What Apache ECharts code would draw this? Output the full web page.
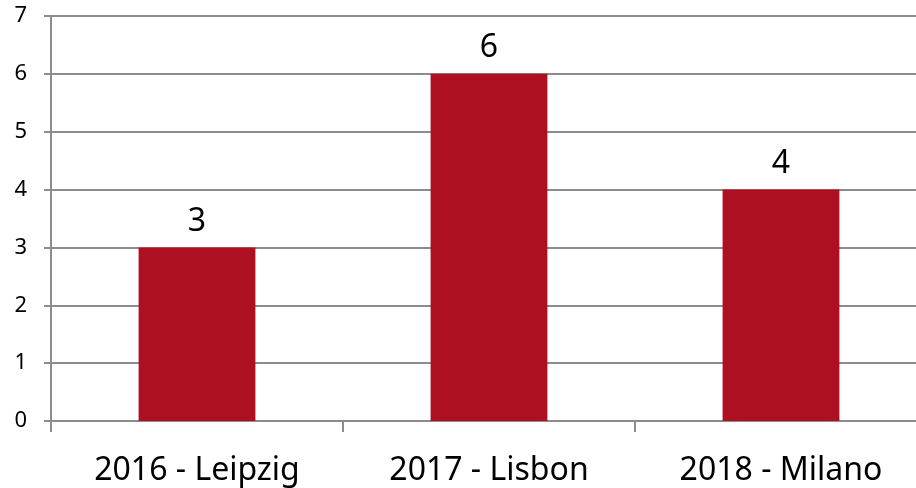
<!DOCTYPE html>
<html>
<head>
<meta charset="utf-8">
<script src="https://cdn.jsdelivr.net/npm/echarts@6/dist/echarts.min.js"></script>
<style>
  html, body { margin: 0; padding: 0; background: #fff; }
  #chart { width: 916px; height: 488px; }
</style>
</head>
<body>
<div id="chart"></div>
<script>
const categories = ["2016 - Leipzig", "2017 - Lisbon", "2018 - Milano"];
const values = [3, 6, 4];

const myChart = echarts.init(document.getElementById("chart"));
const option = {
  animation: false,
  grid: {
    left: 51,
    width: 876,
    top: 16,
    bottom: 67,
    outerBoundsMode: "none",
  },
  xAxis: {
    type: "category",
    data: categories,
    axisLine: { lineStyle: { color: "#8c8c8c", width: 2 } },
    axisTick: { show: true, length: 11, lineStyle: { color: "#8c8c8c", width: 2 } },
    axisLabel: {
      color: "#000",
      fontSize: 32,
      fontFamily: "Noto Sans",
      margin: 34,
    },
  },
  yAxis: {
    type: "value",
    min: 0,
    max: 7,
    interval: 1,
    axisLine: { show: true, lineStyle: { color: "#8c8c8c", width: 2 } },
    axisTick: { show: true, length: 7, lineStyle: { color: "#8c8c8c", width: 2 } },
    splitLine: { lineStyle: { color: "#8c8c8c", width: 2 } },
    axisLabel: {
      color: "#000",
      fontSize: 22,
      fontFamily: "Noto Sans",
      margin: 24,
    },
  },
  series: [
    {
      type: "bar",
      data: values,
      barWidth: "40%",
      itemStyle: { color: "#ad1020" },
      label: {
        show: true,
        position: "top",
        distance: 10,
        color: "#000",
        fontSize: 32,
        fontFamily: "Noto Sans",
      },
    },
  ],
};
myChart.setOption(option);
</script>
</body>
</html>
